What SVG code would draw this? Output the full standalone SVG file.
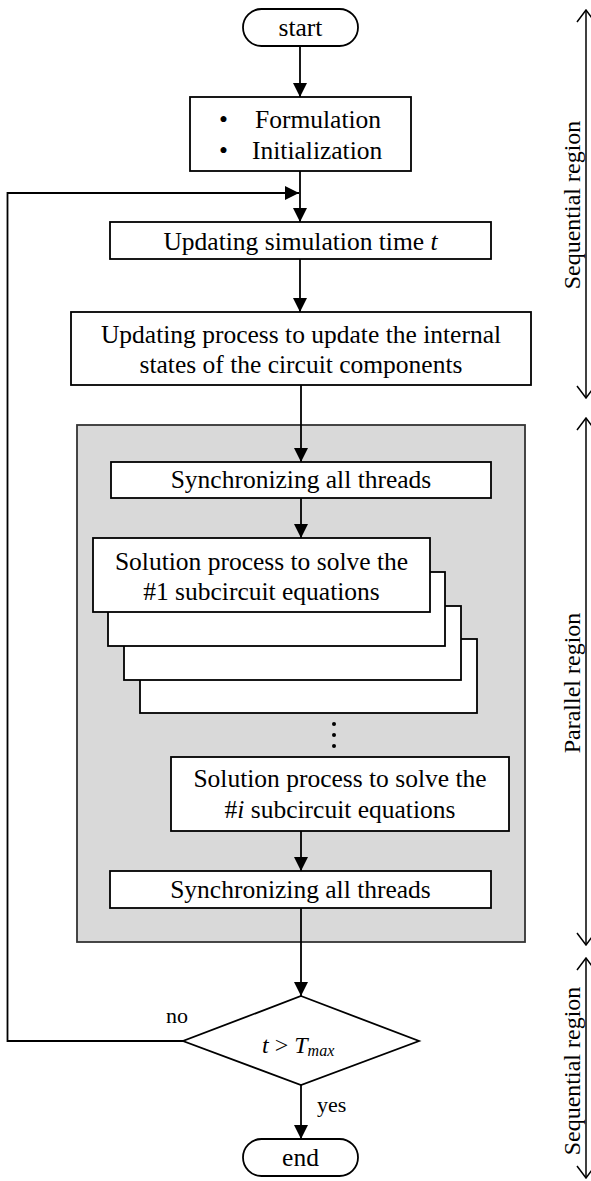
<svg xmlns="http://www.w3.org/2000/svg" width="591" height="1181" viewBox="0 0 591 1181">
  <style>
    text { font-family: "Liberation Serif", "Times New Roman", serif; fill: #000; }
    .lbl { font-size: 25.5px; }
    .mid { text-anchor: middle; }
    .small { font-size: 22px; }
    .side { font-size: 24px; text-anchor: middle; }
    .box { fill: #fff; stroke: #000; stroke-width: 1.8; }
    .line { fill: none; stroke: #000; stroke-width: 1.8; }
    .side-line { fill: none; stroke: #000; stroke-width: 1.5; }
    .it { font-style: italic; }
  </style>
  <defs>
    <marker id="arr" viewBox="0 0 14 14" refX="14" refY="7" markerWidth="14" markerHeight="14" markerUnits="userSpaceOnUse" orient="auto">
      <path d="M0,0 L14,7 L0,14 z" fill="#000"/>
    </marker>
    <marker id="open" viewBox="0 0 14 20" refX="13" refY="10" markerWidth="14" markerHeight="20" markerUnits="userSpaceOnUse" orient="auto-start-reverse">
      <path d="M1,1 L13,10 L1,19" fill="none" stroke="#000" stroke-width="1.5"/>
    </marker>
  </defs>

  <g id="parallel-area">
    <rect x="77" y="425" width="448" height="517" fill="#d9d9d9" stroke="#333" stroke-width="1.8"/>
  </g>

  <g id="connectors">
    <line class="line" x1="300" y1="46" x2="300" y2="97" marker-end="url(#arr)"/>
    <line class="line" x1="300" y1="171" x2="300" y2="222" marker-end="url(#arr)"/>
    <polyline class="line" points="183,1041 7.5,1041 7.5,193 299,193" marker-end="url(#arr)"/>
    <line class="line" x1="300" y1="259" x2="300" y2="312" marker-end="url(#arr)"/>
    <line class="line" x1="301" y1="385" x2="301" y2="462" marker-end="url(#arr)"/>
    <line class="line" x1="301" y1="498" x2="301" y2="538" marker-end="url(#arr)"/>
    <line class="line" x1="301" y1="831" x2="301" y2="871" marker-end="url(#arr)"/>
    <line class="line" x1="301" y1="908" x2="301" y2="996" marker-end="url(#arr)"/>
    <line class="line" x1="301" y1="1085" x2="301" y2="1139" marker-end="url(#arr)"/>
  </g>

  <g id="start">
    <rect class="box" x="243" y="9" width="115" height="37" rx="18.5"/>
    <text class="lbl mid" x="300.5" y="36">start</text>
  </g>

  <g id="init">
    <rect class="box" x="190" y="97" width="221" height="74"/>
    <text class="lbl" x="219" y="128">•</text>
    <text class="lbl" x="255" y="128">Formulation</text>
    <text class="lbl" x="219" y="159">•</text>
    <text class="lbl" x="252" y="159">Initialization</text>
  </g>

  <g id="update-time">
    <rect class="box" x="110" y="222" width="381" height="37"/>
    <text class="lbl mid" x="300.5" y="250">Updating simulation time <tspan class="it">t</tspan></text>
  </g>

  <g id="update-states">
    <rect class="box" x="71" y="312" width="460" height="73"/>
    <text class="lbl mid" x="301" y="343">Updating process to update the internal</text>
    <text class="lbl mid" x="301" y="373">states of the circuit components</text>
  </g>

  <g id="sync1">
    <rect class="box" x="111" y="462" width="380" height="36"/>
    <text class="lbl mid" x="301" y="488">Synchronizing all threads</text>
  </g>

  <g id="solve-stack">
    <rect class="box" x="140" y="639" width="337" height="74"/>
    <rect class="box" x="124" y="606" width="337" height="74"/>
    <rect class="box" x="108" y="572" width="337" height="74"/>
  </g>

  <g id="solve1">
    <rect class="box" x="93" y="538" width="337" height="74"/>
    <text class="lbl mid" x="261.5" y="570">Solution process to solve the</text>
    <text class="lbl mid" x="261.5" y="600">#1 subcircuit equations</text>
  </g>

  <g id="ellipsis">
    <circle cx="334" cy="724" r="2"/>
    <circle cx="334" cy="735" r="2"/>
    <circle cx="334" cy="746" r="2"/>
  </g>

  <g id="solvei">
    <rect class="box" x="171" y="757" width="338" height="74"/>
    <text class="lbl mid" x="340" y="787">Solution process to solve the</text>
    <text class="lbl mid" x="340" y="818">#<tspan class="it">i</tspan> subcircuit equations</text>
  </g>

  <g id="sync2">
    <rect class="box" x="110" y="871" width="381" height="37"/>
    <text class="lbl mid" x="300.5" y="898">Synchronizing all threads</text>
  </g>

  <g id="decision">
    <polygon class="box" points="301,996 419,1041 301,1085 183,1041"/>
    <text x="262" y="1053" font-size="24"><tspan class="it">t</tspan> &gt; <tspan class="it">T</tspan><tspan class="it" font-size="16" dy="3">max</tspan></text>
    <text class="small" x="166" y="1023">no</text>
    <text class="small" x="317" y="1112">yes</text>
  </g>

  <g id="end">
    <rect class="box" x="243" y="1139" width="115" height="37" rx="18.5"/>
    <text class="lbl mid" x="300.5" y="1166">end</text>
  </g>

  <g id="regions">
    <line class="side-line" x1="586" y1="10" x2="586" y2="398" marker-start="url(#open)" marker-end="url(#open)"/>
    <text class="side" transform="translate(580,205) rotate(-90)">Sequential region</text>
    <line class="side-line" x1="586" y1="418" x2="586" y2="945" marker-start="url(#open)" marker-end="url(#open)"/>
    <text class="side" transform="translate(580,683) rotate(-90)">Parallel region</text>
    <line class="side-line" x1="586" y1="958" x2="586" y2="1178" marker-start="url(#open)" marker-end="url(#open)"/>
    <text class="side" transform="translate(580,1071) rotate(-90)">Sequential region</text>
  </g>
</svg>
